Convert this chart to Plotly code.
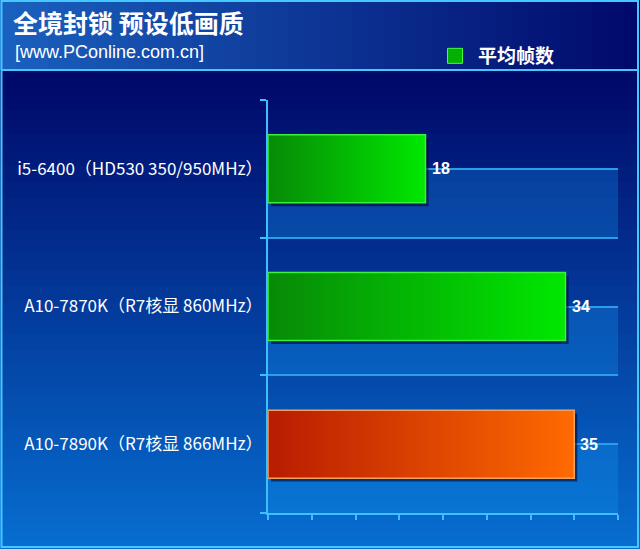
import plotly.graph_objects as go

# chart data
categories = ['i5-6400（HD530 350/950MHz）', 'A10-7870K（R7核显 860MHz）', 'A10-7890K（R7核显 866MHz）']
fps_values = [18, 34, 35]
series_name = '平均帧数'
bar_grad_left = ['#078a07', '#078a07', '#b81c02']
bar_grad_right = ['#00e800', '#00e800', '#ff6a00']
bar_outline = ['#3cf03c', '#3cf03c', '#f3a060']

W, H = 640, 549
def fx(p): return p / W
def fy(p): return 1 - p / H

def mix(c1, c2, t):
    return 'rgb(%d,%d,%d)' % tuple(round(a + (b - a) * t) for a, b in zip(c1, c2))

shapes = []
# header: horizontal gradient light blue -> navy
n = 40
for k in range(n):
    shapes.append(dict(type='rect', xref='paper', yref='paper', layer='below',
                       x0=fx(k * W / n), x1=fx((k + 1) * W / n + 1), y0=fy(70), y1=fy(0),
                       line_width=0, fillcolor=mix((26, 96, 190), (0, 10, 108), k / (n - 1))))
# main panel: vertical gradient navy -> blue
n = 60
for k in range(n):
    y0 = 70 + k * (H - 70) / n
    shapes.append(dict(type='rect', xref='paper', yref='paper', layer='below',
                       x0=0, x1=1, y0=fy(y0 + (H - 70) / n + 1), y1=fy(y0),
                       line_width=0, fillcolor=mix((0, 8, 104), (6, 110, 208), k / (n - 1))))
# lighter back-wall bands in the plot area
for i in range(len(categories)):
    shapes.append(dict(type='rect', xref='x', yref='y', layer='below',
                       x0=0, x1=40, y0=i, y1=i + 0.5, line_width=0,
                       fillcolor='rgba(20,150,240,0.30)'))
# cyan frame and header separator
shapes.append(dict(type='rect', xref='paper', yref='paper', layer='below',
                   x0=fx(1.5), x1=fx(638), y0=fy(547), y1=fy(1),
                   line=dict(color='#45c8ff', width=2), fillcolor='rgba(0,0,0,0)'))
shapes.append(dict(type='line', xref='paper', yref='paper', layer='below',
                   x0=fx(1.5), x1=fx(638), y0=fy(70), y1=fy(70),
                   line=dict(color='#45c8ff', width=2)))

fig = go.Figure()

half = 0.247
for i, v in enumerate(fps_values):
    # soft shadow to the lower right
    fig.add_trace(go.Scatter(x=[0.35, v + 0.35, v + 0.35, 0.35, 0.35],
                             y=[i - half + 0.025, i - half + 0.025, i + half + 0.025, i + half + 0.025, i - half + 0.025],
                             fill='toself', fillcolor='rgba(0,0,40,0.55)', mode='lines', line_width=0,
                             showlegend=False, hoverinfo='skip'))
    fig.add_trace(go.Scatter(x=[0, v, v, 0, 0], y=[i - half, i - half, i + half, i + half, i - half],
                             fill='toself', mode='lines',
                             fillgradient=dict(type='horizontal',
                                               colorscale=[[0, bar_grad_left[i]], [1, bar_grad_right[i]]]),
                             line=dict(color=bar_outline[i], width=1.5),
                             name=categories[i], showlegend=False, hoverinfo='x'))

# legend entry
fig.add_trace(go.Scatter(x=[None], y=[None], mode='markers', name=series_name,
                         marker=dict(symbol='square', size=15, color='#05b005',
                                     line=dict(color='#40ff40', width=1))))

# value labels
annotations = [dict(text='[www.PConline.com.cn]', xref='paper', yref='paper', x=fx(13), y=fy(52),
                    xanchor='left', yanchor='middle', showarrow=False,
                    font=dict(family='Liberation Sans', size=18, color='white'))]
for i, v in enumerate(fps_values):
    annotations.append(dict(text='<b>%d</b>' % v, x=v, y=i, xref='x', yref='y', xanchor='left',
                            yanchor='middle', xshift=4, showarrow=False,
                            font=dict(family='Liberation Sans', size=16, color='white')))

fig.update_layout(
    width=W, height=H, autosize=False,
    margin=dict(l=0, r=0, t=0, b=0),
    paper_bgcolor='#000a68', plot_bgcolor='rgba(0,0,0,0)',
    shapes=shapes,
    title=dict(text='<b>全境封锁 预设低画质</b>', x=fx(13), xanchor='left', y=fy(24), yanchor='middle',
               font=dict(family='Noto Sans CJK SC', size=25, color='white')),
    annotations=annotations,
    legend=dict(x=fx(432), y=fy(56), xanchor='left', yanchor='middle', bgcolor='rgba(0,0,0,0)',
                itemwidth=36,
                font=dict(family='Noto Sans CJK SC', size=19, color='white', weight='bold')),
    xaxis=dict(domain=[fx(268), fx(618)], range=[0, 40], dtick=5, showticklabels=False,
               ticks='outside', ticklen=5, tickwidth=2, tickcolor='#3cc0ff',
               showline=True, linecolor='#3cc0ff', linewidth=2, showgrid=False, zeroline=False),
    yaxis=dict(domain=[fy(513), fy(100)], range=[2.5, -0.5], tickvals=list(range(len(categories))),
               ticktext=categories, ticks='', ticklabelstandoff=0,
               tickfont=dict(family='Noto Sans CJK SC', size=17, color='white'),
               showline=True, linecolor='#3cc0ff', linewidth=2,
               showgrid=True, gridcolor='#2a9ee8', gridwidth=1.5, zeroline=False,
               minor=dict(tickvals=[-0.5, 0.5, 1.5, 2.5], ticks='outside', ticklen=6, tickwidth=2,
                          tickcolor='#3cc0ff', showgrid=True, gridcolor='#2a9ee8', gridwidth=1.5)),
)

fig.write_html("out.html", config={'displayModeBar': False},
               post_script="document.body.style.margin='0';")
